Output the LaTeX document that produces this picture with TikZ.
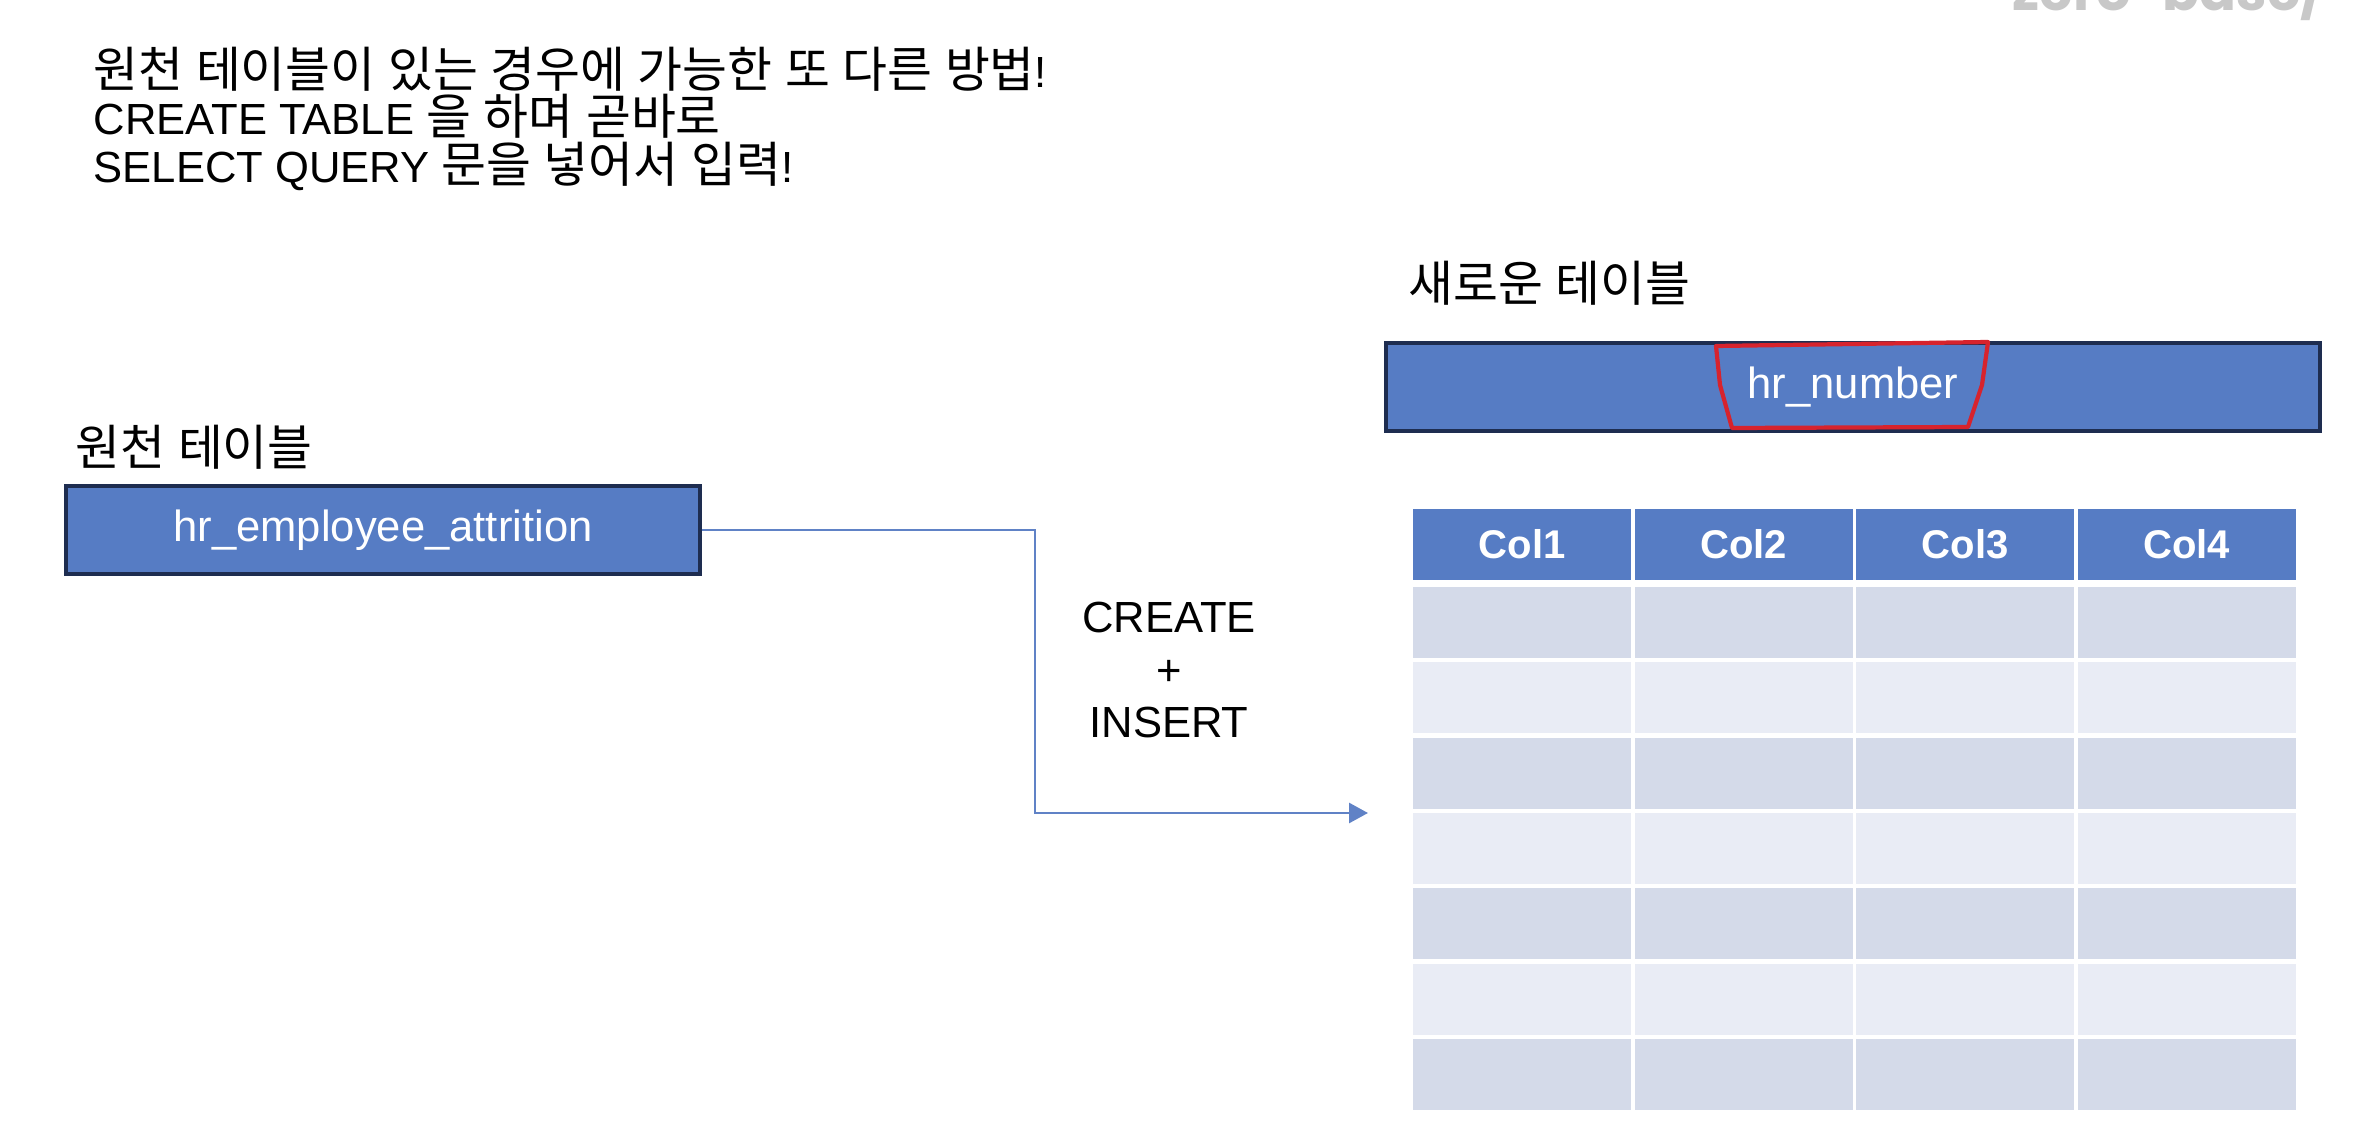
\documentclass[tikz,border=0pt]{standalone}
\usepackage{fontspec}
\setmainfont{Liberation Sans}
\newfontfamily\kofont[Scale=1.12, WordSpace=1.15]{Noto Sans CJK KR}
\newfontfamily\wmfont{Poppins}
\newcommand{\ko}[1]{{\kofont #1}}
\usetikzlibrary{arrows.meta}

\definecolor{barblue}{RGB}{86,124,196}
\definecolor{barline}{RGB}{30,45,80}
\definecolor{rowdark}{RGB}{212,218,233}
\definecolor{rowlight}{RGB}{233,236,245}
\definecolor{linkblue}{RGB}{96,130,198}
\definecolor{penred}{RGB}{215,35,45}
\definecolor{wmgray}{RGB}{200,200,200}

\tikzset{
	txt/.style={inner sep=0pt, font=\fontsize{12.4}{13.6}\selectfont},
	tbar/.style={draw=barline, line width=1.1pt, fill=barblue, text=white, inner sep=0pt, minimum height=8.8mm, font=\fontsize{12.4}{13.5}\selectfont},
	colhead/.style={fill=barblue, text=white, inner sep=0pt, minimum width=21.8mm, minimum height=7.1mm, font=\fontsize{11.4}{13}\selectfont\bfseries},
	cell/.style={inner sep=0pt, minimum width=21.8mm, minimum height=7.1mm},
	link/.style={draw=linkblue, line width=0.8pt},
}

\begin{document}
\begin{tikzpicture}[x=0.1mm, y=-0.1mm]
	\useasboundingbox (0,0) rectangle (2362,1134);

	% watermark, cut at the top edge
	\node[anchor=base west, inner sep=0pt, text=wmgray, font=\wmfont\bfseries\fontsize{15.5}{15.5}\selectfont] (wm) at (2012,11) {zero-base/};

	\node[txt, anchor=north west, align=left] (title) at (93,46) {\ko{원천 테이블이 있는 경우에 가능한 또 다른 방법}!\\CREATE TABLE \ko{을 하며 곧바로}\\SELECT QUERY \ko{문을 넣어서 입력}!};

	\node[txt, anchor=west] (srclbl) at (75,447) {\ko{원천 테이블}};
	\node[txt, anchor=west] (newlbl) at (1408,283) {\ko{새로운 테이블}};

	\node[tbar, minimum width=63.4mm] (src) at (383,530) {hr\_employee\_attrition};
	\node[tbar, minimum width=93.4mm] (dst) at (1853,387) {hr\_number};

	% red pen mark round the field name
	\draw[penred, line width=1.2pt, line join=round] (1716,346) -- (1988,342) -- (1982,385) -- (1968,427) -- (1732,428) -- (1720,385) -- cycle;

	\node[txt, align=center, font=\fontsize{12.4}{15}\selectfont] (op) at (1169,670) {CREATE\\+\\INSERT};

	% table
	\foreach \i in {1,...,4} {
		\node[colhead] (h\i) at ({1413+(\i-1)*221.6+109},544.5) {Col\i};
		\foreach \r in {1,...,7} {
			\ifodd\r
				\node[cell, fill=rowdark] (c\r\i) at ({1413+(\i-1)*221.6+109},{587+(\r-1)*75.3+35.5}) {};
			\else
				\node[cell, fill=rowlight] (c\r\i) at ({1413+(\i-1)*221.6+109},{587+(\r-1)*75.3+35.5}) {};
			\fi
		}
	}

	\coordinate (turn) at (1035,813);
	\coordinate (tip) at (1368,813);
	\draw[link, -{Triangle[length=1.9mm, width=2mm]}] (src.east) -| (turn) -- (tip);
\end{tikzpicture}
\end{document}
